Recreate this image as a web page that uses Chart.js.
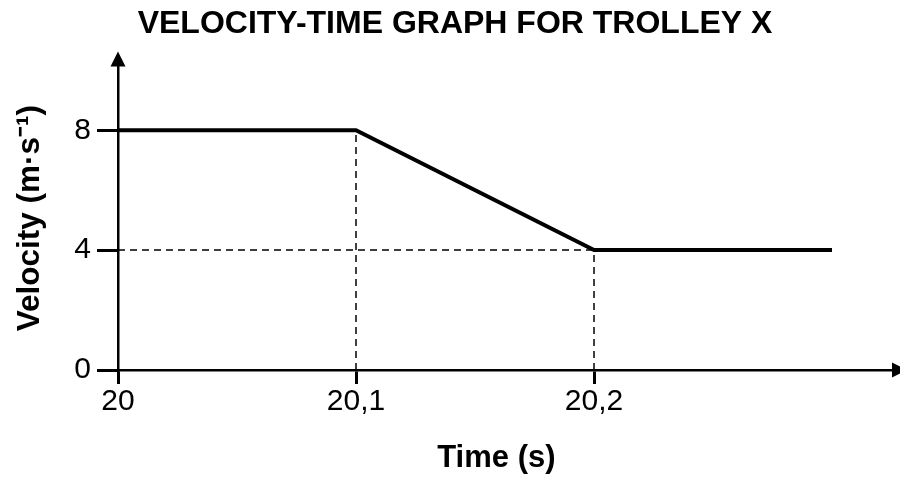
<!DOCTYPE html>
<html>
<head>
<meta charset="utf-8">
<script src="https://cdn.jsdelivr.net/npm/chart.js@4"></script>
<style>
  html, body { margin: 0; padding: 0; background: #fff; }
  #wrap { width: 900px; height: 477px; position: relative; }
</style>
</head>
<body>
<div id="wrap"><canvas id="chart"></canvas></div>
<script>
"use strict";

// ---------------- data ----------------
const timeS = [20, 20.1, 20.2, 20.3];
const velocity = [8, 8, 4, 4];
const xTicks = [20, 20.1, 20.2];
const yTicks = [0, 4, 8];
const xMax = 20.3252;
const yMax = 10.13;

const FONT = "'Liberation Sans', Arial, Helvetica, sans-serif";

// dashed guides down/across from the corners of the graph
const guideA = [{ x: timeS[1], y: 0 }, { x: timeS[1], y: velocity[1] }];
const guideB = [{ x: timeS[0], y: velocity[2] }, { x: timeS[2], y: velocity[2] }];
const guideC = [{ x: timeS[2], y: 0 }, { x: timeS[2], y: velocity[2] }];

const guide = (data) => ({
  data, borderColor: "#000", borderWidth: 1.5, borderDash: [7, 5],
  pointRadius: 0, fill: false, order: 2,
});

// ---------------- arrow heads on the axes ----------------
const arrows = {
  id: "arrows",
  afterDraw(chart) {
    const { ctx, chartArea: a } = chart;
    ctx.save();
    ctx.fillStyle = "#000";
    ctx.beginPath();
    ctx.moveTo(a.left - 7.5, a.top);
    ctx.lineTo(a.left + 7.5, a.top);
    ctx.lineTo(a.left, a.top - 15);
    ctx.closePath();
    ctx.fill();
    ctx.beginPath();
    ctx.moveTo(a.right, a.bottom - 7.5);
    ctx.lineTo(a.right, a.bottom + 7.5);
    ctx.lineTo(a.right + 15, a.bottom);
    ctx.closePath();
    ctx.fill();
    ctx.restore();
  },
};

new Chart(document.getElementById("chart"), {
  type: "line",
  data: {
    datasets: [
      {
        data: timeS.map((t, i) => ({ x: t, y: velocity[i] })),
        borderColor: "#000", borderWidth: 4, pointRadius: 0,
        tension: 0, fill: false, order: 1, borderJoinStyle: "miter",
      },
      guide(guideA), guide(guideB), guide(guideC),
    ],
  },
  options: {
    responsive: true, maintainAspectRatio: false, animation: false,
    // left pad nudges the centred title to where the original sits
    layout: { padding: { left: 18, right: 8, top: 0, bottom: 0 } },
    plugins: {
      legend: { display: false },
      tooltip: { enabled: false },
      title: {
        display: true, text: "VELOCITY-TIME GRAPH FOR TROLLEY X", color: "#000",
        font: { family: FONT, size: 32, weight: "bold" },
        padding: { top: 5, bottom: 23 },
      },
    },
    scales: {
      x: {
        type: "linear", min: 20, max: xMax,
        afterBuildTicks: (s) => { s.ticks = xTicks.map((v) => ({ value: v })); },
        afterFit: (s) => { s.height = 107; },
        ticks: {
          color: "#000", padding: 0, maxRotation: 0,
          font: { family: FONT, size: 30 },
          callback: (v) => String(v).replace(".", ","),
        },
        grid: { drawOnChartArea: false, drawTicks: true, tickLength: 14, lineWidth: 3, color: "#000" },
        border: { display: true, color: "#000", width: 2.5 },
        title: {
          display: true, text: "Time (s)  ", color: "#000",
          font: { family: FONT, size: 31, weight: "bold" },
          padding: { top: 0, bottom: 0 },
        },
      },
      y: {
        min: 0, max: yMax,
        afterBuildTicks: (s) => { s.ticks = yTicks.map((v) => ({ value: v })); },
        afterFit: (s) => { s.width = 100; },
        ticks: { color: "#000", padding: 6, font: { family: FONT, size: 30 } },
        grid: { drawOnChartArea: false, drawTicks: true, tickLength: 21, lineWidth: 3, color: "#000" },
        border: { display: true, color: "#000", width: 2.5 },
        title: {
          display: true, text: "Velocity (m·s⁻¹)", color: "#000",
          font: { family: FONT, size: 31.5, weight: "bold" },
          padding: { top: -7, bottom: 0 },
        },
      },
    },
  },
  plugins: [arrows],
});
</script>
</body>
</html>
